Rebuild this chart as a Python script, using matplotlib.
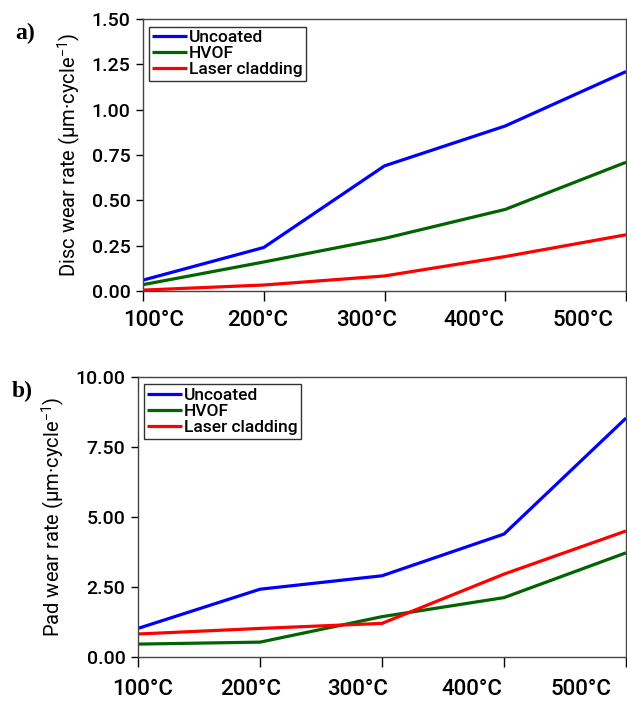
import matplotlib
matplotlib.use("Agg")
import matplotlib.pyplot as plt
from matplotlib.ticker import FormatStrFormatter, FixedLocator, NullFormatter, FixedFormatter

plt.rcParams['font.family'] = ['Roboto', 'DejaVu Sans']
plt.rcParams['font.weight'] = 'medium'
plt.rcParams['mathtext.fontset'] = 'custom'
plt.rcParams['mathtext.rm'] = 'Roboto'
plt.rcParams['mathtext.default'] = 'regular'

categories = ["100°C", "200°C", "300°C", "400°C", "500°C"]
series_names = ["Uncoated", "HVOF", "Laser cladding"]
colors = ["#0000ff", "#006400", "#ff0000"]

disc_uncoated = [0.06, 0.24, 0.69, 0.91, 1.21]
disc_hvof = [0.035, 0.16, 0.29, 0.45, 0.71]
disc_laser = [0.005, 0.033, 0.083, 0.19, 0.31]

pad_uncoated = [1.01, 2.41, 2.89, 4.38, 8.52]
pad_hvof = [0.45, 0.52, 1.43, 2.11, 3.71]
pad_laser = [0.81, 1.01, 1.19, 2.95, 4.49]

fig = plt.figure(figsize=(6.27, 7.03), dpi=100)
ax1 = fig.add_axes([143/627, 1-291/703, (626-143)/627, 272/703])
ax2 = fig.add_axes([138/627, 1-656.7/703, (626-138)/627, 280/703])

x = list(range(len(categories)))

def style(ax, data, ymax, yticks, label_pos, ylabel, pad):
    for vals, name, c in zip(data, series_names, colors):
        ax.plot(x, vals, color=c, lw=2.3, label=name, solid_capstyle='butt')
    ax.set_xlim(0, 4)
    ax.set_ylim(0, ymax)
    ax.set_yticks(yticks)
    ax.yaxis.set_major_formatter(FormatStrFormatter('%.2f'))
    ax.xaxis.set_major_locator(FixedLocator(x))
    ax.xaxis.set_major_formatter(NullFormatter())
    ax.xaxis.set_minor_locator(FixedLocator(label_pos))
    ax.xaxis.set_minor_formatter(FixedFormatter(categories))
    ax.tick_params(axis='x', which='major', length=7, width=1, direction='out')
    ax.tick_params(axis='x', which='minor', length=0, pad=pad, labelsize=16)
    ax.tick_params(axis='y', length=5, width=1, direction='out', labelsize=14, pad=4)
    for s in ax.spines.values():
        s.set_color('#444444')
        s.set_linewidth(1.0)
    ax.set_ylabel(ylabel, fontsize=14.5, labelpad=6)
    leg = ax.legend(loc='upper left', bbox_to_anchor=(0.005, 0.985), fontsize=12.5,
                    handlelength=2.0, handletextpad=0.1, borderpad=0.2,
                    labelspacing=0.05, frameon=True, fancybox=False, borderaxespad=0.2)
    leg.get_frame().set_edgecolor('black')
    leg.get_frame().set_linewidth(1.0)

style(ax1, [disc_uncoated, disc_hvof, disc_laser], 1.5,
      [0, 0.25, 0.5, 0.75, 1.0, 1.25, 1.5],
      [0.09, 0.95, 1.85, 2.74, 3.64],
      "Disc wear rate (µm·cycle$^{-1}$)", 14)
style(ax2, [pad_uncoated, pad_hvof, pad_laser], 10.0,
      [0, 2.5, 5.0, 7.5, 10.0],
      [0.04, 0.92, 1.80, 2.74, 3.63],
      "Pad wear rate (µm·cycle$^{-1}$)", 16)

fig.text(25/627, 1-33/703, "a)", fontsize=17, fontweight='bold',
         family='Liberation Serif', ha='center', va='center')
fig.text(22/627, 1-391/703, "b)", fontsize=17, fontweight='bold',
         family='Liberation Serif', ha='center', va='center')

fig.savefig("out.png", dpi=100)
